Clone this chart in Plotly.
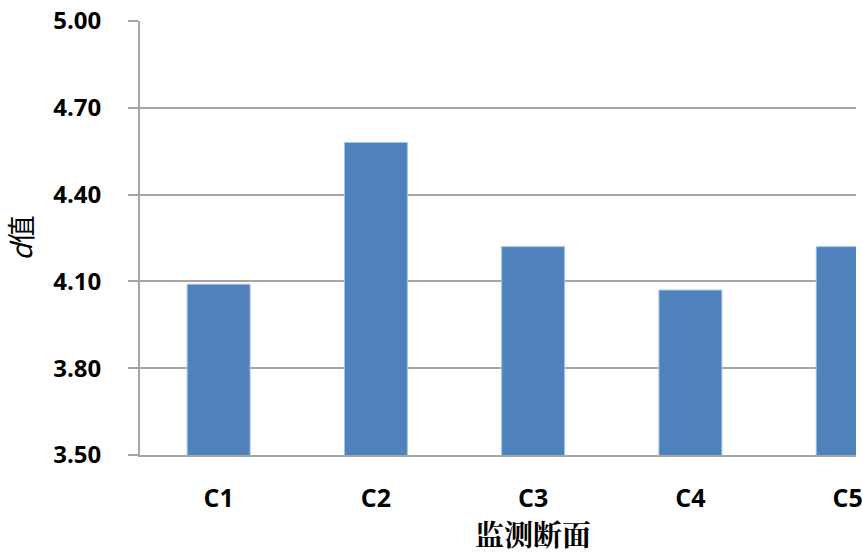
import plotly.graph_objects as go

categories = ["C1", "C2", "C3", "C4", "C5"]
d_values = [4.09, 4.58, 4.22, 4.07, 4.22]
y_ticks = [3.50, 3.80, 4.10, 4.40, 4.70, 5.00]
y_tick_labels = ["3.50", "3.80", "4.10", "4.40", "4.70", "5.00"]

fig = go.Figure()
fig.add_trace(go.Bar(
    x=categories,
    y=d_values,
    width=0.4,
    marker=dict(color="#4F81BD", line=dict(color="#A7C0E0", width=1)),
    showlegend=False,
))

grid = "#A6A6A6"
fig.update_layout(
    width=863, height=555,
    margin=dict(l=140, r=0, t=21, b=100),
    paper_bgcolor="white", plot_bgcolor="white",
    xaxis=dict(
        type="category",
        range=[-0.5, 4.053],
        showline=True, linecolor=grid, linewidth=2,
        showgrid=False,
        ticks="outside", ticklen=0, tickcolor="rgba(0,0,0,0)",
        ticklabelstandoff=20,
        tickfont=dict(family="Open Sans", size=25, color="black", weight="bold"),
    ),
    yaxis=dict(
        range=[3.5, 5.0],
        tickvals=y_ticks, ticktext=y_tick_labels,
        showline=True, linecolor=grid, linewidth=2,
        showgrid=True, gridcolor=grid, gridwidth=2,
        ticks="outside", ticklen=10, tickcolor=grid, tickwidth=2,
        ticklabelstandoff=22,
        tickfont=dict(family="Open Sans", size=24, color="black", weight="bold"),
        title=dict(text="<i>d</i>值", standoff=14,
                   font=dict(family="Noto Sans CJK SC", size=28, color="black")),
        zeroline=False,
    ),
    annotations=[dict(
        text="监测断面", xref="paper", yref="paper",
        x=0.549, y=-0.128, xanchor="center", yanchor="top", showarrow=False,
        font=dict(family="Noto Serif CJK SC, Noto Sans CJK SC", size=29, color="black", weight="bold"),
    )],
)

fig.write_html("out.html")
